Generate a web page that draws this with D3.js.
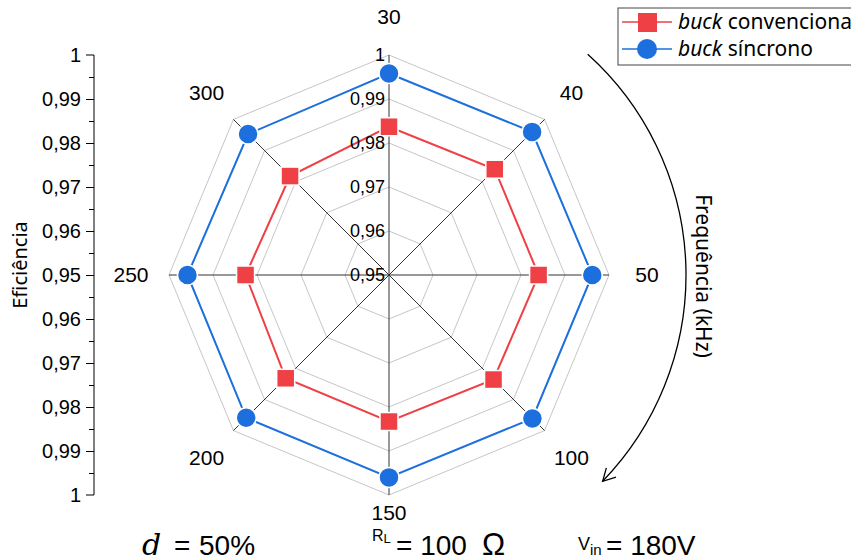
<!DOCTYPE html>
<html>
<head>
<meta charset="utf-8">
<script src="https://cdn.jsdelivr.net/npm/d3@7"></script>
<style>
  body { margin: 0; background: #fff; }
  text { font-family: "Liberation Sans", Arial, sans-serif; fill: #000; }
</style>
</head>
<body>
<div id="chart"></div>
<script>
let CHART_WIDTH = 851;
let CHART_HEIGHT = 560;

// frequency categories (kHz), clockwise from the top
var categories = ["30", "40", "50", "100", "150", "200", "250", "300"];
// efficiency of each converter
var convencional = [0.9837, 0.9840, 0.9840, 0.9836, 0.9833, 0.9832, 0.9826, 0.9818];
var sincrono = [0.9958, 0.9960, 0.9962, 0.9961, 0.9960, 0.9959, 0.9958, 0.9953];
// radial levels
var levels = [0.96, 0.97, 0.98, 0.99, 1];
var radialLabels = [0.95, 0.96, 0.97, 0.98, 0.99, 1];

var cx = 389, cy = 275, R = 220;
var fmt = function (v) { return v === 1 ? "1" : d3.format(".2f")(v).replace(".", ","); };

var svg = d3.select("#chart").append("svg")
	.attr("width", CHART_WIDTH)
	.attr("height", CHART_HEIGHT);

var rScale = d3.scaleLinear().domain([0.95, 1]).range([0, R]);
var angle = d3.scalePoint().domain(categories).range([0, 2 * Math.PI * 7 / 8]);

var g = svg.append("g").attr("transform", "translate(" + cx + "," + cy + ")");

// gray polygons
var ring = d3.lineRadial()
	.angle(function (d) { return angle(d); })
	.curve(d3.curveLinearClosed);
levels.forEach(function (lv) {
	g.append("path")
		.attr("d", ring.radius(rScale(lv))(categories))
		.attr("fill", "none")
		.attr("stroke", "#c6c6c6")
		.attr("stroke-width", 1);
});

// spokes
categories.forEach(function (c) {
	var a = angle(c);
	g.append("line")
		.attr("x1", 0).attr("y1", 0)
		.attr("x2", R * Math.sin(a)).attr("y2", -R * Math.cos(a))
		.attr("stroke", "#333")
		.attr("stroke-width", 1);
});

function pt(c, v) {
	var a = angle(c), r = rScale(v);
	return [r * Math.sin(a), -r * Math.cos(a)];
}

var series = [
	{ name: "convencional", values: convencional, color: "#ee4045", shape: "square" },
	{ name: "sincrono", values: sincrono, color: "#1c6fdc", shape: "circle" }
];

var line = d3.lineRadial()
	.angle(function (d, i) { return angle(categories[i]); })
	.radius(function (d) { return rScale(d); })
	.curve(d3.curveLinearClosed);

series.forEach(function (s) {
	g.append("path")
		.attr("d", line(s.values))
		.attr("fill", "none")
		.attr("stroke", s.color)
		.attr("stroke-width", 2);
});

// markers
series.forEach(function (s) {
	var m = g.selectAll(".m-" + s.name).data(s.values).enter();
	if (s.shape === "square") {
		m.append("rect")
			.attr("x", function (d, i) { return pt(categories[i], d)[0] - 9; })
			.attr("y", function (d, i) { return pt(categories[i], d)[1] - 9; })
			.attr("width", 18).attr("height", 18)
			.attr("fill", s.color)
			.attr("stroke", "#fff").attr("stroke-width", 1.5);
	} else {
		m.append("circle")
			.attr("cx", function (d, i) { return pt(categories[i], d)[0]; })
			.attr("cy", function (d, i) { return pt(categories[i], d)[1]; })
			.attr("r", 10)
			.attr("fill", s.color)
			.attr("stroke", "#fff").attr("stroke-width", 1.5);
	}
});

// radial tick labels along the top spoke
g.selectAll(".rlab").data(radialLabels).enter()
	.append("text")
	.attr("x", -4)
	.attr("y", function (d) { return -rScale(d); })
	.attr("dy", "0.35em")
	.attr("text-anchor", "end")
	.style("font-size", "18px")
	.text(fmt);

// category labels (the bottom one sits a little closer)
function labR(d) { return Math.cos(angle(d)) < -0.99 ? 238 : 258; }
g.selectAll(".clab").data(categories).enter()
	.append("text")
	.attr("x", function (d) { return labR(d) * Math.sin(angle(d)); })
	.attr("y", function (d) { return -labR(d) * Math.cos(angle(d)); })
	.attr("dy", "0.35em")
	.attr("text-anchor", "middle")
	.style("font-size", "21px")
	.text(function (d) { return d; });

// left axis: 1 at top, 0.95 in the middle, 1 at the bottom
var yAxisScale = d3.scaleLinear().domain([0, 0.1]).range([cy - R, cy + R]);
var axisX = 94;
var yAxis = d3.axisLeft(yAxisScale)
	.tickValues(d3.range(0, 0.1001, 0.01))
	.tickSize(8)
	.tickFormat(function (t) { return fmt(+(0.95 + Math.abs(t - 0.05)).toFixed(3)); });
var ax = svg.append("g").attr("transform", "translate(" + axisX + ",0)").call(yAxis);
ax.select(".domain").attr("d", "M-8," + (cy - R) + "H0V" + (cy + R) + "H-8");
ax.selectAll(".tick text").style("font-size", "20px").attr("x", -13);
ax.selectAll(".tick").filter(function (t, i) { return i === 0 || i === 10; }).select("line").remove();
svg.append("g").attr("transform", "translate(" + axisX + ",0)")
	.call(d3.axisLeft(yAxisScale).tickValues(d3.range(0.005, 0.1, 0.01)).tickSize(5).tickFormat(""))
	.select(".domain").remove();
svg.selectAll(".tick line").attr("stroke", "#000");

svg.append("text")
	.attr("transform", "translate(20,265) rotate(-90)")
	.attr("text-anchor", "middle")
	.attr("dy", "0.35em")
	.style("font-family", "'Noto Sans', sans-serif")
	.style("font-size", "20px")
	.text("Eficiência");

// frequency arrow arc
var arcR = 297;
var a0 = 42 * Math.PI / 180, a1 = 134 * Math.PI / 180;
var arc = d3.arc().innerRadius(arcR).outerRadius(arcR).startAngle(a0).endAngle(a1);
g.append("path").attr("d", arc()).attr("fill", "none").attr("stroke", "#000").attr("stroke-width", 1.3);
var ex = arcR * Math.sin(a1), ey = -arcR * Math.cos(a1);
var dir = Math.atan2(Math.sin(a1), Math.cos(a1)); // travel direction at the end
var ah = 14;
g.append("path")
	.attr("d", "M" + (ex - ah * Math.cos(dir - 0.5)) + "," + (ey - ah * Math.sin(dir - 0.5)) +
		"L" + ex + "," + ey +
		"L" + (ex - ah * Math.cos(dir + 0.5)) + "," + (ey - ah * Math.sin(dir + 0.5)))
	.attr("fill", "none").attr("stroke", "#000").attr("stroke-width", 1.3);

svg.append("text")
	.attr("transform", "translate(703,276) rotate(90)")
	.attr("text-anchor", "middle")
	.attr("dy", "0.35em")
	.style("font-family", "'Noto Sans', sans-serif")
	.style("font-size", "21px")
	.text("Frequência (kHz)");

// legend
var lg = svg.append("g").attr("transform", "translate(618,8)");
lg.append("rect").attr("width", 260).attr("height", 57)
	.attr("fill", "#fff").attr("stroke", "#444").attr("stroke-width", 1);
series.forEach(function (s, i) {
	var yy = 14 + i * 27;
	lg.append("line").attr("x1", 4).attr("x2", 54).attr("y1", yy).attr("y2", yy)
		.attr("stroke", s.color).attr("stroke-width", 1.5);
	if (s.shape === "square") {
		lg.append("rect").attr("x", 20).attr("y", yy - 9).attr("width", 19).attr("height", 19).attr("fill", s.color);
	} else {
		lg.append("circle").attr("cx", 29).attr("cy", yy).attr("r", 10).attr("fill", s.color);
	}
	var t = lg.append("text").attr("x", 60).attr("y", yy).attr("dy", "0.35em")
		.style("font-family", "'Noto Sans', sans-serif").style("font-size", "21px");
	t.append("tspan").style("font-style", "italic").text("buck");
	t.append("tspan").text(i === 0 ? " convencional" : " síncrono");
});

// bottom notes
var base = 555;
var note1 = svg.append("text").attr("x", 142).attr("y", base).style("font-size", "28px");
note1.append("tspan").style("font-family", "'DejaVu Serif', serif").style("font-style", "italic").style("font-size", "30px").text("d");
note1.append("tspan").attr("x", 174).text("=");
note1.append("tspan").attr("x", 199).text("50%");

var note2 = svg.append("text").attr("x", 372).attr("y", base - 14).style("font-size", "16px");
note2.append("tspan").text("R");
note2.append("tspan").style("font-size", "13px").attr("dy", 2).text("L");
svg.append("text").attr("x", 396).attr("y", base).style("font-size", "28px").text("= 100");
svg.append("text").attr("x", 482).attr("y", base).style("font-size", "31px").text("Ω");

var note3 = svg.append("text").attr("x", 578).attr("y", base - 5).style("font-size", "18px");
note3.append("tspan").text("V");
note3.append("tspan").style("font-size", "15px").attr("dy", 5).text("in");
svg.append("text").attr("x", 606).attr("y", base).style("font-size", "28px").text("= 180V");
</script>
</body>
</html>
